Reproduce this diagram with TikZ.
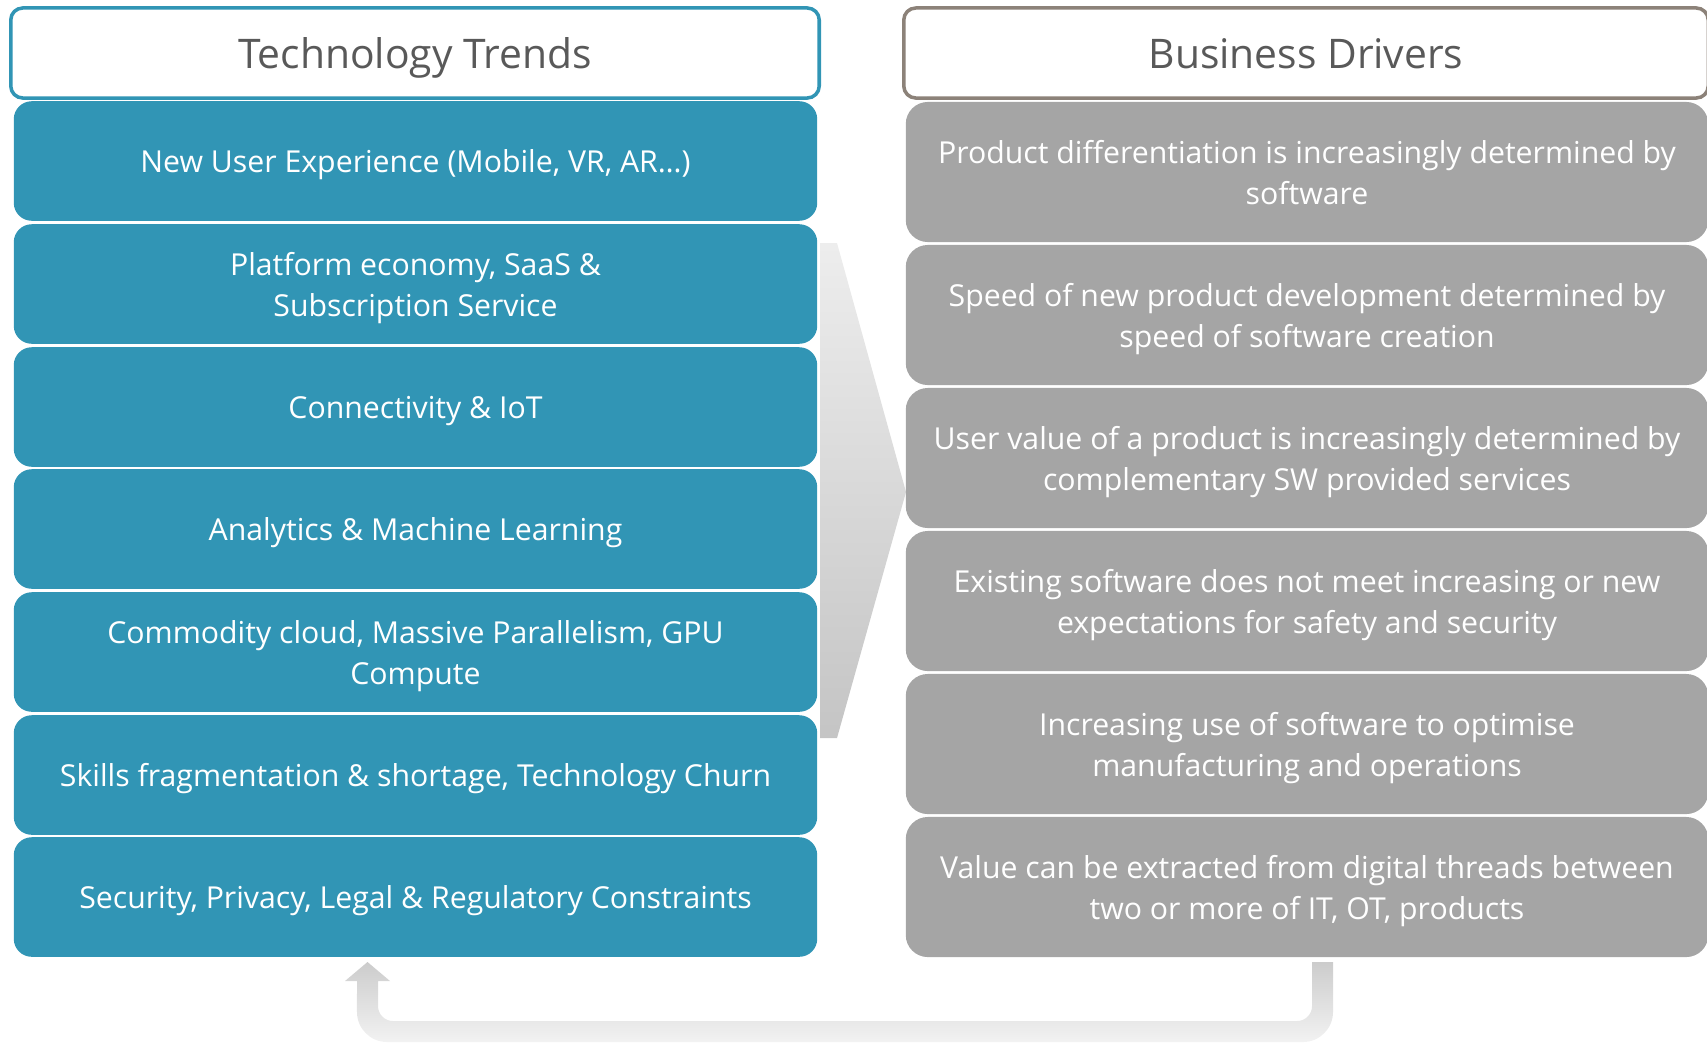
\documentclass[tikz,border=0pt]{standalone}
\usepackage{fontspec}
\setmainfont{Open Sans}
\usepackage{tikz}

\definecolor{trendblue}{HTML}{3195B5}
\definecolor{drivergray}{HTML}{A5A5A5}
\definecolor{headtext}{HTML}{595959}
\definecolor{driverframe}{HTML}{8C8279}
\newcommand{\linestrut}{\rule[-0.293em]{0pt}{1.362em}}
\newcommand{\twostrut}{\rule[-0.293em]{0pt}{2.724em}}

\begin{document}
\begin{tikzpicture}[x=0.01cm, y=-0.01cm]
			\tikzset{header/.style={shape = rectangle, rounded corners = 0.12cm, fill = white, line width = 0.035cm, minimum height = 0.9cm, inner sep = 0pt, text = headtext, font = \fontsize{11.6}{15.8}\selectfont, execute at begin node = \linestrut}}
			\tikzset{trend/.style={shape = rectangle, rounded corners = 0.18cm, fill = trendblue, text = white, minimum width = 8.03cm, minimum height = 1.195cm, inner sep = 0pt, align = center, font = \fontsize{8.6}{11.7}\selectfont, execute at begin node = \linestrut}}
			\tikzset{twolines/.style={execute at begin node = \twostrut}}
			\tikzset{driver/.style={trend, twolines, fill = drivergray, minimum width = 8.02cm, minimum height = 1.4cm, rounded corners = 0.22cm}}
			\useasboundingbox (0, 0) rectangle (1707, 1042);
			%arrows
			\shade[top color = black!7, bottom color = black!23] (820, 243) -- (837, 243) -- (906, 492) -- (837, 738) -- (820, 738) -- cycle;
			\shade[top color = black!20, bottom color = black!5] (1312, 962) -- (1333, 962) -- (1333, 1012) arc[start angle = 0, end angle = -90, radius = 0.3cm] -- (387, 1042) arc[start angle = -90, end angle = -180, radius = 0.3cm] -- (357, 981) -- (345, 981) -- (367.5, 962) -- (390, 981) -- (378, 981) -- (378, 1006) arc[start angle = 180, end angle = 270, radius = 0.15cm] -- (1297, 1021) arc[start angle = -90, end angle = 0, radius = 0.15cm] -- cycle;
			%headers
			\node[header, draw = trendblue, minimum width = 8.08cm] (tech) at (415, 53) {Technology Trends};
			\node[header, draw = driverframe, minimum width = 8.04cm] (biz) at (1306, 53) {Business Drivers};
			%trends
			\node[trend] (t1) at (415.5, 161) {New User Experience (Mobile, VR, AR…)};
			\node[trend, twolines] (t2) at (415.5, 284) {Platform economy, SaaS \&\\Subscription Service};
			\node[trend] (t3) at (415.5, 407) {Connectivity \& IoT};
			\node[trend] (t4) at (415.5, 529) {Analytics \& Machine Learning};
			\node[trend, twolines] (t5) at (415.5, 652) {Commodity cloud, Massive Parallelism, GPU\\Compute};
			\node[trend] (t6) at (415.5, 775) {Skills fragmentation \& shortage, Technology Churn};
			\node[trend] (t7) at (415.5, 897) {Security, Privacy, Legal \& Regulatory Constraints};
			%drivers
			\node[driver] (d1) at (1307, 172) {Product differentiation is increasingly determined by\\software};
			\node[driver] (d2) at (1307, 315) {Speed of new product development determined by\\speed of software creation};
			\node[driver] (d3) at (1307, 458) {User value of a product is increasingly determined by\\complementary SW provided services};
			\node[driver] (d4) at (1307, 601) {Existing software does not meet increasing or new\\expectations for safety and security};
			\node[driver] (d5) at (1307, 744) {Increasing use of software to optimise\\manufacturing and operations};
			\node[driver] (d6) at (1307, 887) {Value can be extracted from digital threads between\\two or more of IT, OT, products};
\end{tikzpicture}
\end{document}
